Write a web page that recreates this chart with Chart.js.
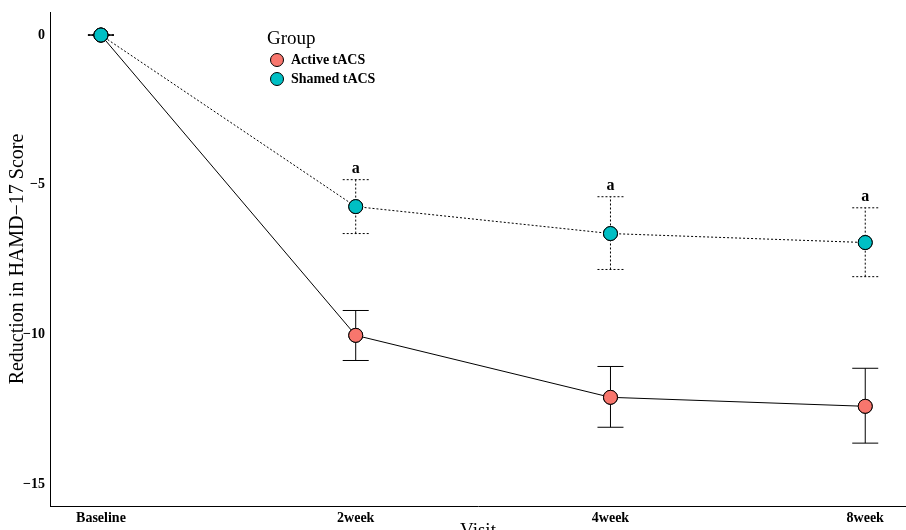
<!DOCTYPE html>
<html>
<head>
<meta charset="utf-8">
<script src="https://cdn.jsdelivr.net/npm/chart.js@4.4.1/dist/chart.umd.min.js"></script>
<style>
  html, body { margin: 0; padding: 0; background: #fff; overflow: hidden; }
  canvas { display: block; }
</style>
</head>
<body>
<canvas id="myChart" width="906" height="530"></canvas>
<script>
const visits = ["Baseline", "2week", "4week", "8week"];
const yTicks = [0, -5, -10, -15];

const activeMean = [0, -10.03, -12.1, -12.4];
const activeLow = [0, -10.87, -13.1, -13.63];
const activeHigh = [0, -9.2, -11.07, -11.13];

const shamMean = [0, -5.73, -6.63, -6.93];
const shamLow = [0, -6.63, -7.83, -8.07];
const shamHigh = [0, -4.83, -5.4, -5.77];

const sigMarks = ["", "a", "a", "a"];

const serif = "'Liberation Serif', 'DejaVu Serif', serif";

// error bars (under the points) + "a" marks
const errorBars = {
    id: "errorBars",
    afterDatasetsDraw(chart) {
        const { ctx, scales: { x, y } } = chart;
        chart.data.datasets.forEach((ds) => {
            ctx.save();
            ctx.strokeStyle = "#000";
            ctx.lineWidth = 1;
            ctx.setLineDash(ds.borderDash || []);
            ds.low.forEach((lo, i) => {
                const px = x.getPixelForValue(i);
                const pLo = y.getPixelForValue(lo);
                const pHi = y.getPixelForValue(ds.high[i]);
                ctx.beginPath();
                ctx.moveTo(px, pLo); ctx.lineTo(px, pHi);
                ctx.moveTo(px - 13, pLo); ctx.lineTo(px + 13, pLo);
                ctx.moveTo(px - 13, pHi); ctx.lineTo(px + 13, pHi);
                ctx.stroke();
            });
            ctx.restore();
        });
        // redraw points on top
        chart.data.datasets.forEach((ds, di) => {
            chart.getDatasetMeta(di).data.forEach((pt) => pt.draw(ctx, chart.chartArea));
        });
        ctx.save();
        ctx.font = "bold 16px " + serif;
        ctx.fillStyle = "#000";
        ctx.textAlign = "center";
        ctx.textBaseline = "bottom";
        sigMarks.forEach((m, i) => {
            if (!m) return;
            ctx.fillText(m, x.getPixelForValue(i), y.getPixelForValue(shamHigh[i]) - 3);
        });
        ctx.restore();
    }
};

// legend with title
const groupLegend = {
    id: "groupLegend",
    afterDraw(chart) {
        const { ctx } = chart;
        ctx.save();
        ctx.fillStyle = "#000";
        ctx.font = "19px " + serif;
        ctx.textBaseline = "middle";
        ctx.fillText("Group", 267, 39);
        ctx.font = "bold 14px " + serif;
        chart.data.datasets.forEach((ds, i) => {
            const cy = 60 + i * 19;
            ctx.beginPath();
            ctx.arc(277, cy, 6.5, 0, Math.PI * 2);
            ctx.fillStyle = ds.pointBackgroundColor;
            ctx.fill();
            ctx.strokeStyle = "#000";
            ctx.lineWidth = 1;
            ctx.stroke();
            ctx.fillStyle = "#000";
            ctx.fillText(ds.label, 291, cy);
        });
        ctx.restore();
    }
};

const ctx = document.getElementById("myChart").getContext("2d");
new Chart(ctx, {
    type: "line",
    data: {
        datasets: [
            {
                label: "Active tACS",
                data: activeMean.map((v, i) => ({ x: i, y: v })),
                low: activeLow,
                high: activeHigh,
                borderColor: "#000",
                borderWidth: 1,
                pointRadius: 7,
                pointBorderWidth: 1,
                pointBorderColor: "#000",
                pointBackgroundColor: "#F8766D",
                pointHoverRadius: 7,
            },
            {
                label: "Shamed tACS",
                data: shamMean.map((v, i) => ({ x: i, y: v })),
                low: shamLow,
                high: shamHigh,
                borderColor: "#000",
                borderWidth: 1,
                borderDash: [2, 2],
                pointRadius: 7,
                pointBorderWidth: 1,
                pointBorderColor: "#000",
                pointBackgroundColor: "#00BFC4",
                pointHoverRadius: 7,
            },
        ],
    },
    options: {
        responsive: false,
        animation: false,
        events: [],
        layout: { autoPadding: false, padding: { top: 12, right: 0, left: 0, bottom: 0 } },
        plugins: { legend: { display: false }, tooltip: { enabled: false } },
        scales: {
            x: {
                type: "linear",
                min: -0.2,
                max: 3.16,
                afterBuildTicks: (s) => { s.ticks = visits.map((_, i) => ({ value: i })); },
                afterFit: (s) => { s.height = 24; s.paddingLeft = 0; s.paddingRight = 0; },
                grid: { display: false, drawTicks: true, tickLength: 3, tickColor: "#000" },
                border: { color: "#000", width: 1 },
                ticks: {
                    callback: (v) => visits[v],
                    color: "#000",
                    font: { family: serif, size: 14, weight: "bold" },
                    padding: 1,
                    maxRotation: 0,
                },
                title: {
                    display: true,
                    text: "Visit",
                    color: "#000",
                    font: { family: serif, size: 19 },
                    padding: { top: 0, bottom: -12 },
                },
            },
            y: {
                min: -15.73,
                max: 0.77,
                afterBuildTicks: (s) => { s.ticks = yTicks.map((v) => ({ value: v })); },
                afterFit: (s) => { s.width = 50; },
                grid: { display: false, drawTicks: true, tickLength: 3, tickColor: "#000" },
                border: { color: "#000", width: 1 },
                ticks: {
                    callback: (v) => (v < 0 ? "\u2212" + Math.abs(v) : String(v)),
                    color: "#000",
                    font: { family: serif, size: 14, weight: "bold" },
                    padding: 2,
                },
                title: {
                    display: true,
                    text: "Reduction in HAMD\u221217 Score",
                    color: "#000",
                    font: { family: serif, size: 20 },
                    padding: { top: 6, bottom: 0 },
                },
            },
        },
    },
    plugins: [errorBars, groupLegend],
});
</script>
</body>
</html>
